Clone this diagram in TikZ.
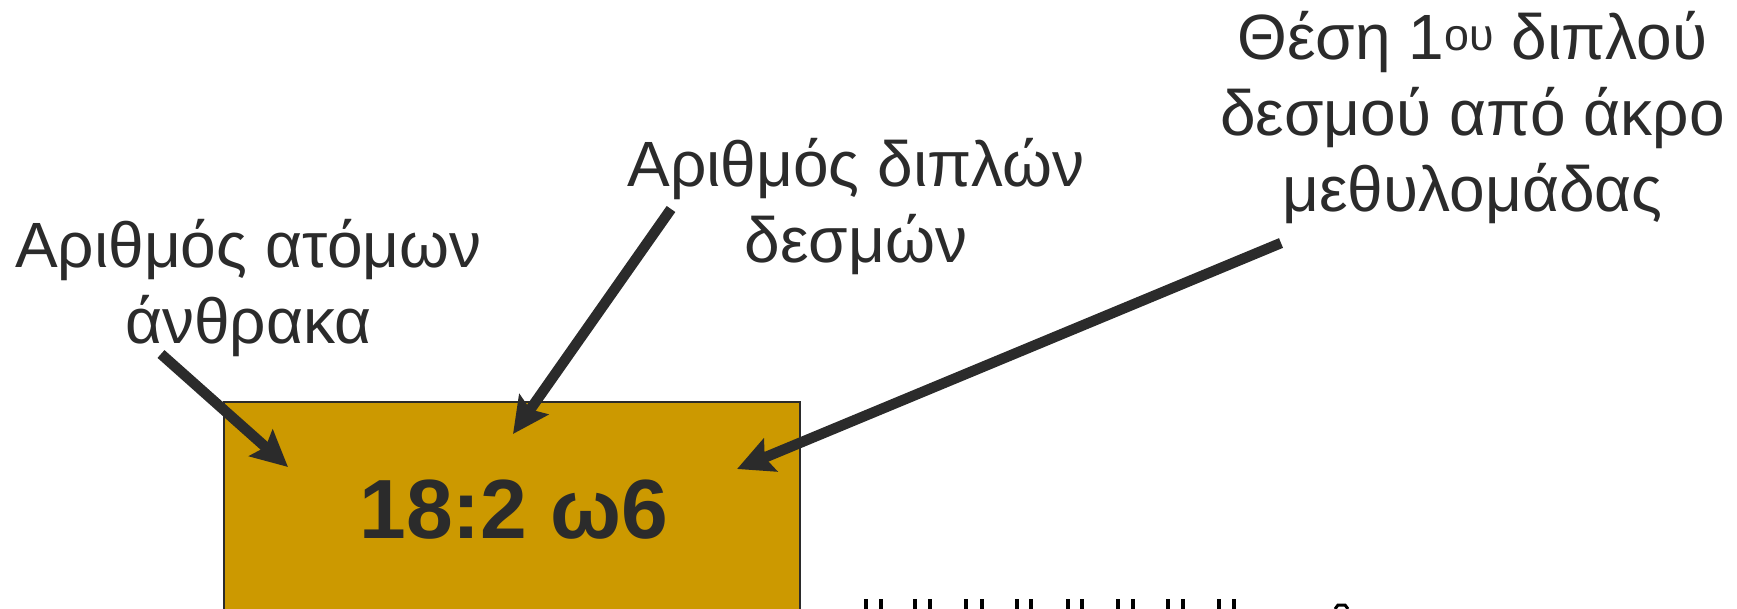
\documentclass[tikz,border=0pt]{standalone}
\usepackage{fontspec}
\setmainfont{Liberation Sans}
\usetikzlibrary{arrows.meta}
\definecolor{ink}{HTML}{2B2B2B}
\definecolor{ochre}{HTML}{CC9900}
\tikzset{lab/.style={align=center,text=ink,inner sep=0pt,font=\fontsize{64}{76}\selectfont},ptr/.style={-{Stealth[length=36pt,width=35pt,inset=6pt]},line width=10.5pt,ink},tick/.style={line width=3.5pt,black}}
\begin{document}
\begin{tikzpicture}[x=1pt,y=-1pt]
\useasboundingbox (0,0) rectangle (1737,609);
\clip (0,0) rectangle (1737,609);
\node[draw=ink,line width=1.5pt,fill=ochre,text=ink,minimum width=576pt,minimum height=216pt,inner sep=0pt,font=\fontsize{84}{84}\selectfont\bfseries] (fatty) at (512,510) {\hspace*{4pt}18:2 ω6};
\node[lab] (lcarbon) at (248.5,288) {Αριθμός ατόμων\\άνθρακα};
\node[lab] (lbonds) at (856,207) {Αριθμός διπλών\\δεσμών};
\node[lab] (lpos) at (1472.5,118) {Θέση 1\textsuperscript{ου} διπλού\\δεσμού από άκρο\\μεθυλομάδας};
\coordinate (ccarbon) at (161,354);
\coordinate (tcarbon) at (288,467);
\coordinate (cbonds) at (671,209);
\coordinate (tbonds) at (513,434);
\coordinate (cpos) at (1281,243);
\coordinate (tpos) at (737,469);
\draw[ptr] (ccarbon) -- (tcarbon);
\draw[ptr] (cbonds) -- (tbonds);
\draw[ptr] (cpos) -- (tpos);
\foreach \x in {866,881,915,930,966,982,1017,1031,1068,1082,1118,1133,1168,1183,1219,1234}{\draw[tick] (\x,599) -- (\x,609);}
\draw[line width=3pt,black] (1335,609) -- (1338,605) -- (1345,605) -- (1348,609);
\end{tikzpicture}
\end{document}
